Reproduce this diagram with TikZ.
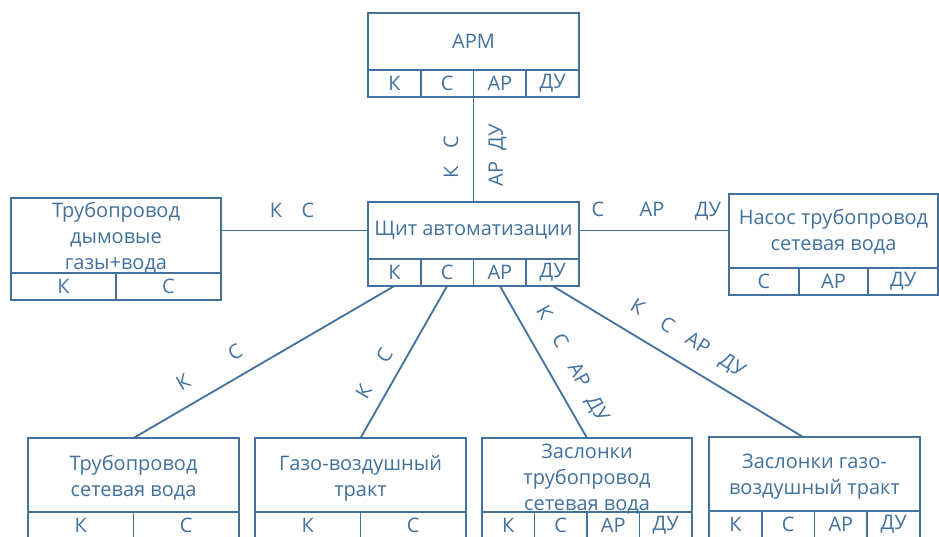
\documentclass[tikz,border=0pt]{standalone}
\usepackage{fontspec}
\setmainfont{Open Sans}
\definecolor{vblue}{RGB}{65,113,156}
\newcommand{\tk}[1]{\makebox[0pt]{#1}}
\tikzset{
  bx/.style={draw=vblue, line width=1.8pt, inner sep=0pt, outer sep=0pt, anchor=north west, align=center, text=vblue, font=\fontsize{20}{25.5}\selectfont},
  txt/.style={inner sep=0pt, align=center, text=vblue, font=\fontsize{20}{26}\selectfont},
  conn/.style={draw=vblue, line width=1.8pt},
  lbl/.style={text=vblue, inner sep=0pt, font=\fontsize{20}{22}\selectfont},
}
\begin{document}
\begin{tikzpicture}[x=1pt,y=-1pt]
\useasboundingbox (0,0) rectangle (939,537);
% APM
\node[bx, minimum width=211pt, minimum height=57pt] (arm) at (368,13) {АРМ};
\node[bx, minimum width=52.75pt, minimum height=27pt] (arm-k) at (368,70) {К};
\node[bx, minimum width=52.75pt, minimum height=27pt] (arm-c) at (420.75,70) {С};
\node[bx, minimum width=52.75pt, minimum height=27pt] (arm-ar) at (473.5,70) {АР};
\node[bx, minimum width=52.75pt, minimum height=27pt] (arm-du) at (526.25,70) {ДУ};
% Shchit
\node[bx, minimum width=211pt, minimum height=57pt] (sh) at (368,202) {Щит автоматизации};
\node[bx, minimum width=52.75pt, minimum height=27pt] (sh-k) at (368,259) {К};
\node[bx, minimum width=52.75pt, minimum height=27pt] (sh-c) at (420.75,259) {С};
\node[bx, minimum width=52.75pt, minimum height=27pt] (sh-ar) at (473.5,259) {АР};
\node[bx, minimum width=52.75pt, minimum height=27pt] (sh-du) at (526.25,259) {ДУ};
% Left box
\node[bx, minimum width=210pt, minimum height=75pt] (lf) at (11,198) {};
\node[txt] (lf-t) at ([yshift=-2pt]lf.center) {Трубопровод\\дымовые\\газы+вода};
\node[bx, minimum width=105pt, minimum height=27pt] (lf-k) at (11,273) {К};
\node[bx, minimum width=105pt, minimum height=27pt] (lf-c) at (116,273) {С};
% Nasos
\node[bx, minimum width=209pt, minimum height=74pt] (ns) at (729,194) {};
\node[txt] (ns-t) at ([yshift=-1pt]ns.center) {Насос трубопровод\\сетевая вода};
\node[bx, minimum width=69.67pt, minimum height=27pt] (ns-c) at (729,268) {С};
\node[bx, minimum width=69.67pt, minimum height=27pt] (ns-ar) at (798.67,268) {АР};
\node[bx, minimum width=69.67pt, minimum height=27pt] (ns-du) at (868.33,268) {ДУ};
% Bottom boxes
\node[bx, minimum width=211pt, minimum height=74pt] (b1) at (28,438) {};
\node[txt] (b1-t) at ([yshift=-3pt]b1.center) {Трубопровод\\сетевая вода};
\node[bx, minimum width=105.5pt, minimum height=27pt] (b1-k) at (28,512) {К};
\node[bx, minimum width=105.5pt, minimum height=27pt] (b1-c) at (133.5,512) {С};
\node[bx, minimum width=211pt, minimum height=74pt] (b2) at (255,438) {};
\node[txt] (b2-t) at ([yshift=-3pt]b2.center) {Газо-воздушный\\тракт};
\node[bx, minimum width=105.5pt, minimum height=27pt] (b2-k) at (255,512) {К};
\node[bx, minimum width=105.5pt, minimum height=27pt] (b2-c) at (360.5,512) {С};
\node[bx, minimum width=210pt, minimum height=74pt] (b3) at (482,438) {};
\node[txt] (b3-t) at ([yshift=-4pt]b3.center) {Заслонки\\трубопровод\\сетевая вода};
\node[bx, minimum width=52.5pt, minimum height=27pt] (b3-k) at (482,512) {К};
\node[bx, minimum width=52.5pt, minimum height=27pt] (b3-c) at (534.5,512) {С};
\node[bx, minimum width=52.5pt, minimum height=27pt] (b3-ar) at (587,512) {АР};
\node[bx, minimum width=52.5pt, minimum height=27pt] (b3-du) at (639.5,512) {ДУ};
\node[bx, minimum width=211pt, minimum height=74pt] (b4) at (709,437) {};
\node[txt] (b4-t) at ([yshift=-3pt]b4.center) {Заслонки газо-\\воздушный тракт};
\node[bx, minimum width=52.75pt, minimum height=27pt] (b4-k) at (709,511) {К};
\node[bx, minimum width=52.75pt, minimum height=27pt] (b4-c) at (761.75,511) {С};
\node[bx, minimum width=52.75pt, minimum height=27pt] (b4-ar) at (814.5,511) {АР};
\node[bx, minimum width=52.75pt, minimum height=27pt] (b4-du) at (867.25,511) {ДУ};
% connectors
\draw[conn] (arm-ar.south west) -- (arm-ar.south west |- sh.north);
\draw[conn] (sh.west -| lf.east) -- (sh.west);
\draw[conn] (sh.east) -- (sh.east -| ns.west);
\draw[conn] (sh-k.south) -- (b1.north);
\draw[conn] (sh-c.south) -- (b2.north);
\draw[conn] (sh-ar.south) -- (b3.north);
\coordinate (b4in) at ([xshift=-11.5pt]b4.north);
\draw[conn] (sh-du.south) -- (b4in);
% labels
\node[lbl, rotate=90] (lv1) at (451,157) {\tk{К}\hspace{30pt}\tk{С}};
\node[lbl, rotate=90] (lv2) at (497.5,155.5) {\tk{АР}\hspace{37pt}\tk{ДУ}};
\node[lbl] (lh1) at (292,210) {\tk{К}\hspace{32pt}\tk{С}};
\node[lbl] (lh2) at (653,211) {\tk{С}\hspace{54pt}\tk{АР}\hspace{56pt}\tk{ДУ}};
\node[lbl, rotate=30] (ld1) at (209,367) {\tk{К}\hspace{60pt}\tk{С}};
\node[lbl, rotate=60] (ld2) at (374,373.5) {\tk{К}\hspace{41pt}\tk{С}};
\node[lbl, rotate=-61] (ld3) at (570,361) {\tk{К}\hspace{32.7pt}\tk{С}\hspace{38.8pt}\tk{АР}\hspace{38.6pt}\tk{ДУ}};
\node[lbl, rotate=-31.5] (ld4) at (684.5,337) {\tk{К}\hspace{34.7pt}\tk{С}\hspace{35.8pt}\tk{АР}\hspace{40.9pt}\tk{ДУ}};
\end{tikzpicture}
\end{document}
